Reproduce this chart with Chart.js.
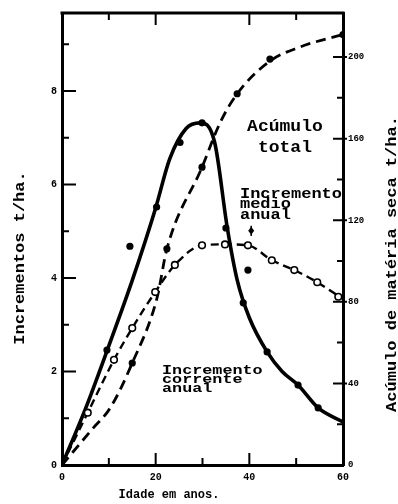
<!DOCTYPE html>
<html><head><meta charset="utf-8">
<script src="https://cdn.jsdelivr.net/npm/chart.js@4.4.1/dist/chart.umd.min.js"></script>
<style>html,body{margin:0;padding:0;background:#fff;}canvas{display:block;}</style>
</head><body>
<canvas id="c" width="398" height="504"></canvas>
<script>
// ---- data ----
// Incremento corrente anual (solid fitted curve, left axis, t/ha)
const correnteAges = [0, 5, 10, 15, 20, 23, 26.5, 29.5, 32.6, 35.3, 37.4, 40, 43.8, 47, 50.4, 54.7, 60];
const correnteVals = [0, 1.2, 2.55, 3.95, 5.5, 6.55, 7.2, 7.32, 6.9, 5.07, 3.96, 3.15, 2.42, 2.0, 1.71, 1.22, 0.92];
// observed points (filled dots) for incremento corrente
const correnteObsAges = [9.6, 14.5, 20.2, 25.2, 29.9, 35.0, 38.7, 39.7, 43.8, 50.4, 54.7];
const correnteObsVals = [2.46, 4.68, 5.52, 6.9, 7.32, 5.07, 3.47, 4.17, 2.42, 1.71, 1.22];
// Incremento medio anual (dashed, open circles, left axis)
const medioAges = [0, 5.5, 11.1, 15, 19.9, 24.1, 29.9, 34.8, 39.7, 44.8, 49.6, 54.5, 60];
const medioVals = [0, 1.12, 2.25, 2.93, 3.7, 4.28, 4.7, 4.72, 4.7, 4.38, 4.17, 3.91, 3.55];
const medioObsAges = [5.5, 11.1, 15, 19.9, 24.1, 29.9, 34.8, 39.7, 44.8, 49.6, 54.5, 59];
const medioObsVals = [1.12, 2.25, 2.93, 3.7, 4.28, 4.7, 4.72, 4.7, 4.38, 4.17, 3.91, 3.6];
// Acumulo total (dashed, right axis, t/ha)
const acumAges = [0, 6.6, 10.3, 15, 20.3, 22.4, 29.9, 33.8, 37.4, 44.4, 50.9, 56.6, 60];
const acumVals = [0, 18, 28, 50, 82, 106, 146, 168, 182, 198, 205, 209, 211];
const acumObsAges = [15, 22.4, 29.9, 37.4, 44.4, 60];
const acumObsVals = [50, 106, 146, 182, 199, 211];
// axes
const xTickValues = [10, 20, 30, 40, 50];
const xTopTickValues = [10, 20, 40, 50];
const yLeftTickValues = [1, 2, 3, 4, 5, 6, 7, 8, 9];
const yRightTickValues = [20, 40, 60, 80, 100, 120, 140, 160, 180, 200];
const xTitle = 'Idade em anos.';
const yLeftTitle = 'Incrementos t/ha.';
const yRightTitle = 'Acúmulo de matéria seca t/ha.';

const pts = (xs, ys) => xs.map((x, i) => ({x, y: ys[i]}));
const MONO = '"Liberation Mono", "Courier New", monospace';
const tickFont = {family: 'Liberation Mono', size: 10, weight: 'bold'};

const notes = [
  {lines: ['Acúmulo', 'total'], age: 47.6, vals: [7.15, 6.70], align: 'center', size: 18, sy: 0.9},
  {lines: ['Incremento', 'medio', 'anual'], age: 38.0, vals: [5.71, 5.49, 5.26], align: 'left', size: 17, sy: 0.82},
  {lines: ['Incremento', 'corrente', 'anual'], age: 21.35, vals: [1.95, 1.75, 1.56], align: 'left', size: 16.8, sy: 0.78}
];

const deco = {
  id: 'deco',
  afterDraw(chart) {
    const {ctx, chartArea: a} = chart;
    const {x, y, y2} = chart.scales;
    ctx.save();
    ctx.strokeStyle = '#000'; ctx.fillStyle = '#000';
    ctx.lineWidth = 3;
    ctx.beginPath(); ctx.moveTo(a.left - 1.5, a.top); ctx.lineTo(a.right + 1.5, a.top); ctx.stroke();
    ctx.lineWidth = 2;
    ctx.beginPath();
    yLeftTickValues.forEach(v => {
      const p = y.getPixelForValue(v); const L = v % 2 === 0 ? 14 : 7;
      ctx.moveTo(a.left, p); ctx.lineTo(a.left + L, p);
    });
    yRightTickValues.forEach(v => {
      const p = y2.getPixelForValue(v); const major = v % 40 === 0;
      ctx.moveTo(a.right + (major ? 4 : 0), p); ctx.lineTo(a.right - (major ? 10 : 6), p);
    });
    xTickValues.forEach(v => {
      const p = x.getPixelForValue(v); const L = v % 20 === 0 ? 12 : 7;
      ctx.moveTo(p, a.bottom); ctx.lineTo(p, a.bottom - L);
    });
    xTopTickValues.forEach(v => {
      const p = x.getPixelForValue(v); const L = v % 20 === 0 ? 12 : 7;
      ctx.moveTo(p, a.top); ctx.lineTo(p, a.top + L);
    });
    ctx.stroke();

    // annotations
    ctx.textBaseline = 'alphabetic';
    notes.forEach(n => {
      ctx.font = 'bold ' + n.size + 'px ' + MONO;
      ctx.textAlign = n.align;
      n.lines.forEach((t, i) => {
        const px = x.getPixelForValue(n.age), py = y.getPixelForValue(n.vals[i]);
        ctx.save(); ctx.translate(px, py); ctx.scale(1, n.sy); ctx.fillText(t, 0, 0); ctx.restore();
      });
    });
    // small arrow under "medio anual"
    const ax = x.getPixelForValue(40.4), ay1 = y.getPixelForValue(5.12), ay2 = y.getPixelForValue(4.9);
    ctx.lineWidth = 1.5;
    ctx.beginPath(); ctx.moveTo(ax, ay1); ctx.lineTo(ax, ay2); ctx.stroke();
    ctx.beginPath(); ctx.moveTo(ax, ay1 + 1); ctx.lineTo(ax + 3, ay1 + 5); ctx.lineTo(ax, ay1 + 9); ctx.lineTo(ax - 3, ay1 + 5); ctx.closePath(); ctx.fill();

    // axis titles
    ctx.textAlign = 'center'; ctx.textBaseline = 'middle';
    ctx.font = 'bold 12px ' + MONO;
    ctx.fillText(xTitle, 169, 495);
    ctx.font = 'bold 17px ' + MONO;
    ctx.save(); ctx.translate(20, 258); ctx.rotate(-Math.PI / 2); ctx.scale(1, 0.85); ctx.fillText(yLeftTitle, 0, 0); ctx.restore();
    ctx.save(); ctx.translate(392, 264); ctx.rotate(-Math.PI / 2); ctx.scale(1, 0.85); ctx.fillText(yRightTitle, 0, 0); ctx.restore();
    ctx.restore();
  }
};

new Chart(document.getElementById('c'), {
  type: 'scatter',
  data: {
    datasets: [
      {data: pts(correnteObsAges, correnteObsVals), yAxisID: 'y', showLine: false, pointRadius: 3.6, pointBackgroundColor: '#000', pointBorderColor: '#000', pointBorderWidth: 0},
      {data: pts(medioObsAges, medioObsVals), yAxisID: 'y', showLine: false, pointRadius: 3.3, pointBackgroundColor: '#fff', pointBorderColor: '#000', pointBorderWidth: 1.6},
      {data: pts(acumObsAges, acumObsVals), yAxisID: 'y2', showLine: false, pointRadius: 3.6, pointBackgroundColor: '#000', pointBorderColor: '#000', pointBorderWidth: 0},
      {data: pts(correnteAges, correnteVals), yAxisID: 'y', showLine: true, pointRadius: 0, borderColor: '#000', borderWidth: 3.6, cubicInterpolationMode: 'monotone'},
      {data: pts(medioAges, medioVals), yAxisID: 'y', showLine: true, pointRadius: 0, borderColor: '#000', borderWidth: 2.4, borderDash: [8, 5], cubicInterpolationMode: 'monotone'},
      {data: pts(acumAges, acumVals), yAxisID: 'y2', showLine: true, pointRadius: 0, borderColor: '#000', borderWidth: 2.8, borderDash: [10, 6], cubicInterpolationMode: 'monotone'}
    ]
  },
  options: {
    responsive: false, animation: false, devicePixelRatio: 1,
    layout: {padding: {top: 13, left: 0, right: 0, bottom: 0}},
    plugins: {legend: {display: false}, tooltip: {enabled: false}},
    scales: {
      x: {type: 'linear', position: 'bottom', min: 0, max: 60,
        grid: {display: false, drawTicks: false}, border: {display: true, color: '#000', width: 3},
        ticks: {stepSize: 20, includeBounds: false, padding: 6, color: '#000', font: tickFont, maxRotation: 0},
        afterFit(s) { s.height = 39; }},
      y: {type: 'linear', position: 'left', min: 0, max: 9.67,
        grid: {display: false, drawTicks: false}, border: {display: true, color: '#000', width: 3},
        ticks: {stepSize: 2, includeBounds: false, padding: 5, color: '#000', font: tickFont},
        afterFit(s) { s.width = 62; }},
      y2: {type: 'linear', position: 'right', min: 0, max: 221.6,
        grid: {display: false, drawTicks: false}, border: {display: true, color: '#000', width: 3},
        ticks: {stepSize: 40, includeBounds: false, padding: 5, color: '#000', font: {family: 'Liberation Mono', size: 9, weight: 'bold'}},
        afterFit(s) { s.width = 55; }}
    }
  },
  plugins: [deco]
});
</script>
</body></html>
